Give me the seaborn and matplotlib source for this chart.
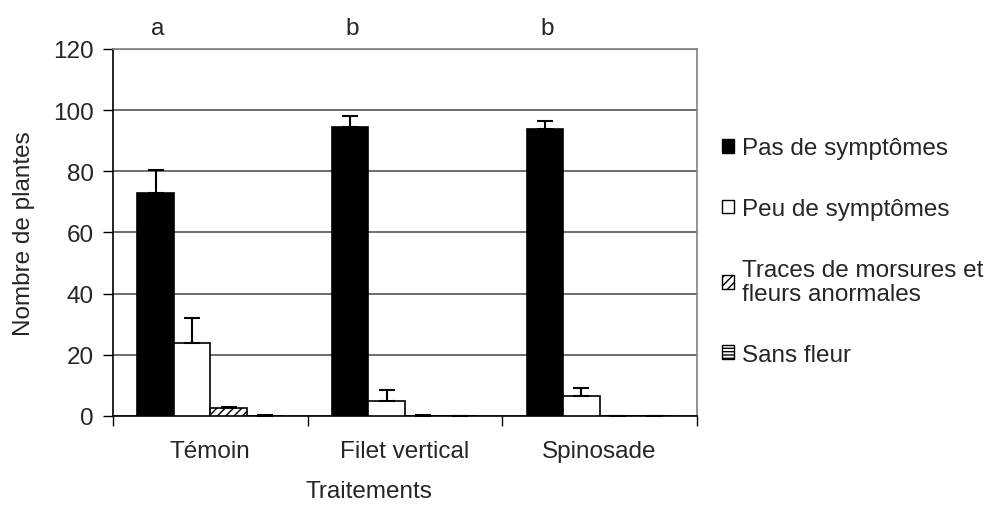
import numpy as np
import pandas as pd
import matplotlib
matplotlib.use("Agg")
import matplotlib.pyplot as plt
import seaborn as sns
from matplotlib.patches import Patch

traitements = ["Témoin", "Filet vertical", "Spinosade"]
categories = ["Pas de symptômes", "Peu de symptômes",
              "Traces de morsures et\nfleurs anormales", "Sans fleur"]

# one list per category, in the order of traitements
pas_symptomes = [73, 94.5, 94]
peu_symptomes = [24, 5, 6.5]
traces = [2.5, 0, 0]
sans_fleur = [0, 0, 0]

# upper error bars (length)
err_pas = [7.5, 3.5, 2.5]
err_peu = [8, 3.5, 2.5]
err_traces = [0.5, 0.4, 0]
err_sans = [0.4, 0, 0]

lettres = ["a", "b", "b"]

values = [pas_symptomes, peu_symptomes, traces, sans_fleur]
errors = [err_pas, err_peu, err_traces, err_sans]

rows = []
for cat, vals in zip(categories, values):
    for t, v in zip(traitements, vals):
        rows.append({"Traitements": t, "Categorie": cat, "Nombre": v})
df = pd.DataFrame(rows)

sns.set_style("white")
plt.rcParams["font.family"] = ["Liberation Sans", "DejaVu Sans"]
FS = 17.5

fig = plt.figure(figsize=(10.05, 5.06), dpi=100)
ax = fig.add_axes([0.1124, 0.1759, 0.581, 0.7253])

pal = ["black", "white", "white", "white"]
sns.barplot(data=df, x="Traitements", y="Nombre", hue="Categorie",
            order=traitements, hue_order=categories, palette=pal,
            width=0.75, errorbar=None, edgecolor="black", linewidth=1.2,
            legend=False, ax=ax, zorder=3)

hatches = [None, None, "////", "-----"]
bars = [p for p in ax.patches]
for i, p in enumerate(bars):
    h = hatches[i // len(traitements)]
    if h:
        p.set_hatch(h)

# error bars, upper side only
for i, p in enumerate(bars):
    ci, ti = divmod(i, len(traitements))
    x = p.get_x() + p.get_width() / 2
    y = values[ci][ti]
    e = errors[ci][ti]
    ax.errorbar(x, y, yerr=[[0], [e]], fmt="none", ecolor="black",
                elinewidth=1.5, capsize=6, capthick=1.5, zorder=4)

ax.set_ylim(0, 120)
ax.set_xlim(-0.5, 2.5)
ax.set_yticks(range(0, 121, 20))
ax.yaxis.grid(True, color="#555555", linewidth=1.2, zorder=0)
ax.set_axisbelow(True)

ax.set_xticks(range(3))
ax.set_xticklabels(traitements)
ax.set_xticks([-0.5, 0.5, 1.5, 2.5], minor=True)
ax.tick_params(axis="x", which="major", length=0, pad=17, labelsize=FS)
ax.tick_params(axis="x", which="minor", length=7, width=1, color="black",
               direction="out", bottom=True)
ax.tick_params(axis="y", length=7, width=1, color="black", direction="out",
               left=True, labelsize=FS, pad=7)

for s in ["left", "bottom"]:
    ax.spines[s].set_color("black")
    ax.spines[s].set_linewidth(1.2)
for s in ["top", "right"]:
    ax.spines[s].set_visible(True)
    ax.spines[s].set_color("#808080")
    ax.spines[s].set_linewidth(1.2)

ax.set_ylabel("Nombre de plantes", fontsize=FS, labelpad=13)
ax.set_xlabel("")
fig.text(0.367, 0.027, "Traitements", fontsize=FS, ha="center", va="center")

for i, l in enumerate(lettres):
    x = bars[i].get_x() + bars[i].get_width() / 2
    ax.text(x + 0.01, 127, l, fontsize=FS, ha="center", va="center",
            clip_on=False)

handles = [
    Patch(facecolor="black", edgecolor="black"),
    Patch(facecolor="white", edgecolor="black"),
    Patch(facecolor="white", edgecolor="black", hatch="////"),
    Patch(facecolor="white", edgecolor="black", hatch="-----"),
]
leg = fig.legend(handles, categories, loc="upper left",
                 bbox_to_anchor=(0.709, 0.746), frameon=False, fontsize=FS,
                 handlelength=0.5, handleheight=0.5, handletextpad=0.3,
                 labelspacing=1.6, borderaxespad=0)
for t in leg.get_texts():
    t.set_linespacing(1.1)

fig.savefig("out.png", dpi=100)
